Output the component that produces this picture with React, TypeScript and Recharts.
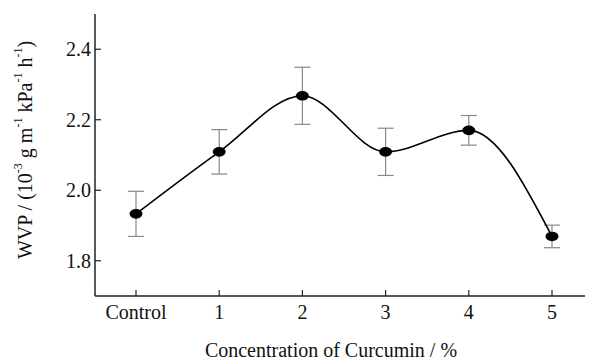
import { LineChart, Line, XAxis, YAxis, ErrorBar, Label } from 'recharts';

const categories = ['Control', '1', '2', '3', '4', '5'];
const wvp = [1.933, 2.109, 2.268, 2.109, 2.17, 1.869];
const sd = [0.064, 0.063, 0.081, 0.067, 0.042, 0.032];
const yTicks = [1.8, 2.0, 2.2, 2.4];

const data = categories.map((c, i) => ({ name: c, wvp: wvp[i], sd: sd[i] }));

const FONT = "'Liberation Serif', 'Times New Roman', Times, 'DejaVu Serif', serif";
const AXIS = '#222';
const textStyle = { fontFamily: FONT };

const XTick = (props: any) => {
    const { x, y, payload } = props;
    return (
        <g>
            <line x1={x} y1={y} x2={x} y2={y - 6} stroke={AXIS} strokeWidth={1.2} />
            <text x={x} y={y + 23} textAnchor="middle" fontSize={20} style={textStyle} fill="#111">
                {payload.value}
            </text>
        </g>
    );
};

const YTick = (props: any) => {
    const { x, y, payload } = props;
    return (
        <g>
            <line x1={x} y1={y} x2={x + 6} y2={y} stroke={AXIS} strokeWidth={1.2} />
            <text x={x - 4} y={y + 7} textAnchor="end" fontSize={20} style={textStyle} fill="#111">
                {Number(payload.value).toFixed(1)}
            </text>
        </g>
    );
};

const Dot = (props: any) => {
    const { cx, cy } = props;
    if (cx == null || cy == null) return null;
    return <ellipse cx={cx} cy={cy} rx={6.5} ry={4.8} fill="#000" />;
};

const YTitle = () => (
    <text
        x={25}
        y={150}
        transform="rotate(-90 25 150)"
        textAnchor="middle"
        dominantBaseline="central"
        fontSize={20}
        style={textStyle}
        fill="#111"
    >
        <tspan>WVP / (10</tspan>
        <tspan fontSize={12} dy={-7}>-3</tspan>
        <tspan dy={7}> g m</tspan>
        <tspan fontSize={12} dy={-7}>-1</tspan>
        <tspan dy={7}> kPa</tspan>
        <tspan fontSize={12} dy={-7}>-1</tspan>
        <tspan dy={7}> h</tspan>
        <tspan fontSize={12} dy={-7}>-1</tspan>
        <tspan dy={7}>)</tspan>
    </text>
);

const XTitle = () => (
    <text x={331} y={357} textAnchor="middle" fontSize={20} style={textStyle} fill="#111">
        Concentration of Curcumin / %
    </text>
);

export default function App() {
    return (
        <div style={{ position: 'absolute', left: 0, top: 0, background: '#fff' }}>
            <LineChart width={589} height={360} data={data} margin={{ top: 14, right: 4, left: 0, bottom: 0 }}>
                <XAxis
                    dataKey="name"
                    height={64}
                    padding={{ left: 41, right: 33 }}
                    tickSize={0}
                    tickMargin={0}
                    tick={<XTick />}
                    axisLine={{ stroke: AXIS, strokeWidth: 1.5 }}
                    tickLine={false}
                    interval={0}
                >
                    <Label content={<XTitle />} />
                </XAxis>
                <YAxis
                    width={95}
                    domain={[1.7, 2.5]}
                    ticks={yTicks}
                    tickSize={0}
                    tickMargin={0}
                    tick={<YTick />}
                    axisLine={{ stroke: AXIS, strokeWidth: 1.5 }}
                    tickLine={false}
                >
                    <Label content={<YTitle />} />
                </YAxis>
                <Line
                    type="monotone"
                    dataKey="wvp"
                    stroke="#000"
                    strokeWidth={1.6}
                    dot={<Dot />}
                    activeDot={false}
                    isAnimationActive={false}
                >
                    <ErrorBar dataKey="sd" width={8} stroke="#888" strokeWidth={1.2} direction="y" />
                </Line>
            </LineChart>
        </div>
    );
}
